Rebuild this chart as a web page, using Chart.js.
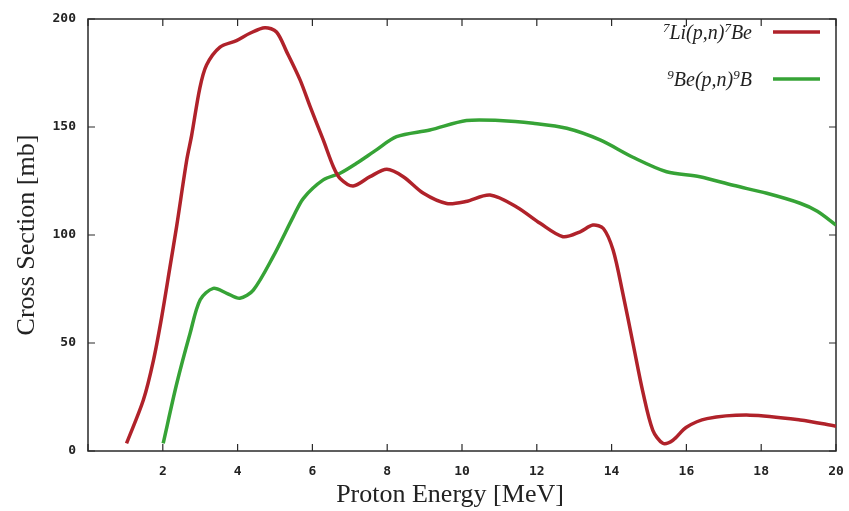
<!DOCTYPE html>
<html>
<head>
<meta charset="utf-8">
<script src="https://cdn.jsdelivr.net/npm/chart.js@4/dist/chart.umd.min.js"></script>
<style>
  html, body { margin: 0; padding: 0; background: #ffffff; }
  #wrap { width: 849px; height: 511px; position: relative; }
</style>
</head>
<body>
<div id="wrap"><canvas id="c" width="849" height="511"></canvas></div>
<script>
// ---- data ----
const liEnergy = [1.03, 1.48, 1.75, 1.97, 2.19, 2.37, 2.64, 2.77, 2.99, 3.17, 3.53, 3.97, 4.33, 4.73, 5.04, 5.31, 5.67, 5.94, 6.29, 6.56, 6.74, 7.09, 7.54, 7.99, 8.43, 8.97, 9.59, 10.1, 10.75, 11.46, 12.09, 12.7, 13.16, 13.5, 13.78, 14.04, 14.3, 14.57, 14.84, 15.1, 15.37, 15.64, 16.0, 16.55, 17.7, 19.04, 20.0];
const liSigma  = [3.5, 23.6, 42, 62, 85, 104, 134.7, 146, 168, 178.7, 187, 190, 193.4, 196, 194, 184.9, 171.8, 159.4, 144, 131.6, 126.2, 122.7, 127, 130.4, 127, 119.3, 114.6, 115.5, 118.5, 113, 105.4, 99.2, 101.5, 104.6, 103, 93, 73, 50, 27, 9.7, 3.6, 5, 11, 15, 16.6, 14.4, 11.5];

const beEnergy = [2.01, 2.37, 2.73, 3.0, 3.35, 3.71, 4.06, 4.42, 4.95, 5.49, 5.76, 6.29, 6.74, 7.18, 7.71, 8.25, 9.14, 10.12, 11.0, 11.9, 12.8, 13.69, 14.57, 15.47, 16.36, 17.25, 18.15, 19.04, 19.5, 20.0];
const beSigma  = [3.5, 31, 54.5, 70, 75.3, 73, 70.7, 74.5, 90, 108.5, 117, 125.5, 128.6, 133.2, 139.4, 145.5, 148.6, 153, 153, 151.7, 149.4, 144, 136, 129.3, 127, 123, 119.3, 114.7, 111, 104.6];

const xTickValues = [0, 2, 4, 6, 8, 10, 12, 14, 16, 18, 20];
const yTickValues = [0, 50, 100, 150, 200];

const seriesNames = ['Li(p,n)Be', 'Be(p,n)B'];
const xTitle = 'Proton Energy [MeV]';
const yTitle = 'Cross Section [mb]';

const RED = '#b0222a';
const GREEN = '#36a336';

function toPoints(xs, ys) { return xs.map((x, i) => ({ x: x, y: ys[i] })); }

// border + inward mirrored ticks (gnuplot style)
const framePlugin = {
  id: 'frame',
  beforeDatasetsDraw(chart) {
    const { ctx, chartArea: { left, right, top, bottom }, scales: { x, y } } = chart;
    ctx.save();
    ctx.strokeStyle = '#2a2a2a';
    ctx.lineWidth = 1.5;
    ctx.strokeRect(left, top, right - left, bottom - top);
    ctx.lineWidth = 1.2;
    ctx.beginPath();
    xTickValues.forEach(v => {
      const px = x.getPixelForValue(v);
      ctx.moveTo(px, bottom); ctx.lineTo(px, bottom - 7);
      ctx.moveTo(px, top); ctx.lineTo(px, top + 7);
    });
    yTickValues.forEach(v => {
      const py = y.getPixelForValue(v);
      ctx.moveTo(left, py); ctx.lineTo(left + 7, py);
      ctx.moveTo(right, py); ctx.lineTo(right - 7, py);
    });
    ctx.stroke();
    ctx.restore();
  },
  afterDraw(chart) {
    const { ctx } = chart;
    ctx.save();
    // x axis title
    ctx.fillStyle = '#222';
    ctx.font = '26px "Liberation Serif"';
    ctx.textAlign = 'center';
    ctx.textBaseline = 'middle';
    ctx.fillText(xTitle, 450, 495);

    // legend: text right-aligned then line sample
    const entries = [
      { sup1: '7', main1: 'Li(p,n)', sup2: '7', main2: 'Be', color: RED, y: 33 },
      { sup1: '9', main1: 'Be(p,n)', sup2: '9', main2: 'B', color: GREEN, y: 80 }
    ];
    const bigFont = 'italic 20px "Liberation Serif"';
    const supFont = 'italic 13px "Liberation Serif"';
    entries.forEach(e => {
      const parts = [
        { t: e.sup1, f: supFont, dy: -7 },
        { t: e.main1, f: bigFont, dy: 0 },
        { t: e.sup2, f: supFont, dy: -7 },
        { t: e.main2, f: bigFont, dy: 0 }
      ];
      let w = 0;
      parts.forEach(p => { ctx.font = p.f; p.w = ctx.measureText(p.t).width; w += p.w; });
      let xx = 752 - w;
      ctx.textAlign = 'left';
      ctx.textBaseline = 'alphabetic';
      ctx.fillStyle = '#222';
      parts.forEach(p => { ctx.font = p.f; ctx.fillText(p.t, xx, e.y + 6 + p.dy); xx += p.w; });
      ctx.strokeStyle = e.color;
      ctx.lineWidth = 3.5;
      ctx.beginPath();
      ctx.moveTo(773, e.y - 1);
      ctx.lineTo(820, e.y - 1);
      ctx.stroke();
    });
    ctx.restore();
  }
};

const tickFont = { family: '"DejaVu Sans Mono"', size: 13, weight: 'bold' };

new Chart(document.getElementById('c'), {
  type: 'line',
  data: {
    datasets: [
      {
        label: seriesNames[0],
        data: toPoints(liEnergy, liSigma),
        borderColor: RED,
        borderWidth: 3.5,
        pointRadius: 0,
        tension: 0.3,
        fill: false
      },
      {
        label: seriesNames[1],
        data: toPoints(beEnergy, beSigma),
        borderColor: GREEN,
        borderWidth: 3.5,
        pointRadius: 0,
        tension: 0.3,
        fill: false
      }
    ]
  },
  options: {
    responsive: false,
    animation: false,
    devicePixelRatio: 1,
    layout: { padding: { top: 19, right: 13, left: 0, bottom: 0 } },
    plugins: {
      legend: { display: false },
      tooltip: { enabled: false }
    },
    scales: {
      x: {
        type: 'linear',
        min: 0, max: 20,
        afterFit(scale) { scale.height = 60; scale.paddingLeft = 0; scale.paddingRight = 0; },
        afterBuildTicks(scale) { scale.ticks = xTickValues.map(v => ({ value: v })); },
        grid: { display: false, drawTicks: false },
        border: { display: false },
        ticks: {
          font: tickFont,
          color: '#222',
          padding: 13,
          maxRotation: 0,
          autoSkip: false,
          callback: v => (v === 0 ? '' : String(v))
        }
      },
      y: {
        type: 'linear',
        min: 0, max: 200,
        afterFit(scale) { scale.width = 88; scale.paddingTop = 0; scale.paddingBottom = 0; },
        afterBuildTicks(scale) { scale.ticks = yTickValues.map(v => ({ value: v })); },
        grid: { display: false, drawTicks: false },
        border: { display: false },
        ticks: {
          font: tickFont,
          color: '#222',
          padding: 12,
          autoSkip: false
        },
        title: {
          display: true,
          text: yTitle,
          font: { family: '"Liberation Serif"', size: 26 },
          color: '#222',
          padding: { top: 12, bottom: 0 }
        }
      }
    }
  },
  plugins: [framePlugin]
});
</script>
</body>
</html>
